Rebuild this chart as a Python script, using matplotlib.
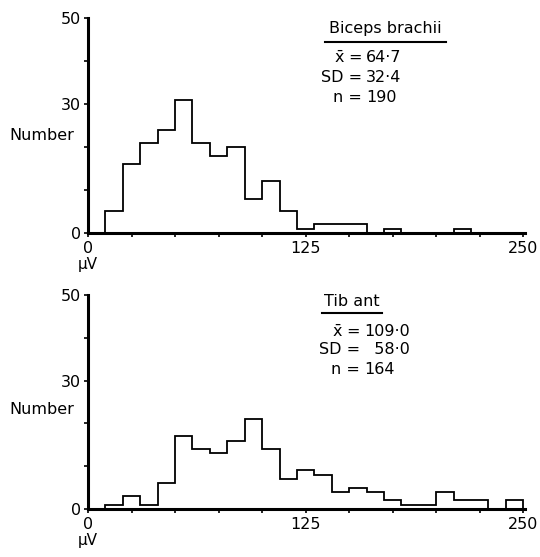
import numpy as np
import matplotlib
matplotlib.use("Agg")
from matplotlib import pyplot as plt
from matplotlib.lines import Line2D

plt.rcParams['font.family'] = ['DejaVu Sans']
plt.rcParams['mathtext.default'] = 'regular'

# bin edges (uV) and counts per bin
biceps_edges = np.arange(10, 221, 10)
biceps_counts = [5, 16, 21, 24, 31, 21, 18, 20, 8, 12, 5, 1, 2, 2, 2, 0, 1, 0, 0, 0, 1]
biceps_stats = ["$\\bar{x}$ =", "SD =", "n ="]
biceps_vals = ["64·7", "32·4", "190"]

tib_edges = np.arange(10, 251, 10)
tib_counts = [1, 3, 1, 6, 17, 14, 13, 16, 21, 14, 7, 9, 8, 4, 5, 4, 2, 1, 1, 4, 2, 2, 0, 2]
tib_stats = ["$\\bar{x}$ =", "SD =", "n ="]
tib_vals = ["109·0", "  58·0", "164"]

yticks = [0, 10, 20, 30, 40, 50]
ylabels = ["0", "", "", "30", "", "50"]
xticks = np.arange(0, 251, 25)
xlabels = ["0", "", "", "", "", "125", "", "", "", "", "250"]

W, H = 540, 557
fig = plt.figure(figsize=(W / 100, H / 100), dpi=100)


def px(x, y):
    return x / W, 1 - y / H


def setup(ax, edges, counts):
    ax.stairs(counts, edges, baseline=0, fill=False, color='black', linewidth=1.3)
    ax.set_xlim(0, 251)
    ax.set_ylim(0, 50)
    for s in ['top', 'right']:
        ax.spines[s].set_visible(False)
    for s in ['left', 'bottom']:
        ax.spines[s].set_linewidth(2.2)
    ax.set_yticks(yticks)
    ax.set_yticklabels(ylabels, fontsize=11.5)
    ax.set_xticks(xticks)
    ax.set_xticklabels(xlabels, fontsize=11.5)
    ax.tick_params(axis='y', length=3, width=1.2, pad=2)
    ax.tick_params(axis='x', length=3, width=1.2, pad=3)
    ax.annotate("µV", xy=(0, 0), xycoords=('data', 'axes fraction'),
                xytext=(0, -22.5), textcoords='offset points',
                ha='center', va='center', fontsize=11)


ax1 = fig.add_axes([88 / W, 1 - 233 / H, 437 / W, 215 / H])
setup(ax1, biceps_edges, biceps_counts)
ax2 = fig.add_axes([88 / W, 1 - 509 / H, 437 / W, 214 / H])
setup(ax2, tib_edges, tib_counts)

fig.text(*px(42, 136), "Number", ha='center', va='center', fontsize=11.5)
fig.text(*px(42, 409), "Number", ha='center', va='center', fontsize=11.5)


def stats_block(title, tx, ty, ul, stats, vals, ys, eq_x, val_x):
    fig.text(*px(tx, ty), title, ha='center', va='center', fontsize=11.5)
    fig.add_artist(Line2D([ul[0] / W, ul[1] / W], [1 - ul[2] / H] * 2,
                          color='black', linewidth=1.5))
    for lab, v, y in zip(stats, vals, ys):
        fig.text(*px(eq_x, y), lab, ha='right', va='center', fontsize=11.5)
        fig.text(*px(val_x, y), v, ha='left', va='center', fontsize=11.5)


stats_block("Biceps brachii", 385, 29, (325, 446, 42), biceps_stats, biceps_vals,
            [58, 78, 98], 362, 366)
stats_block("Tib ant", 352, 302, (322, 382, 313), tib_stats, tib_vals,
            [332, 350, 369], 360, 364)

fig.savefig("out.png", dpi=100)
